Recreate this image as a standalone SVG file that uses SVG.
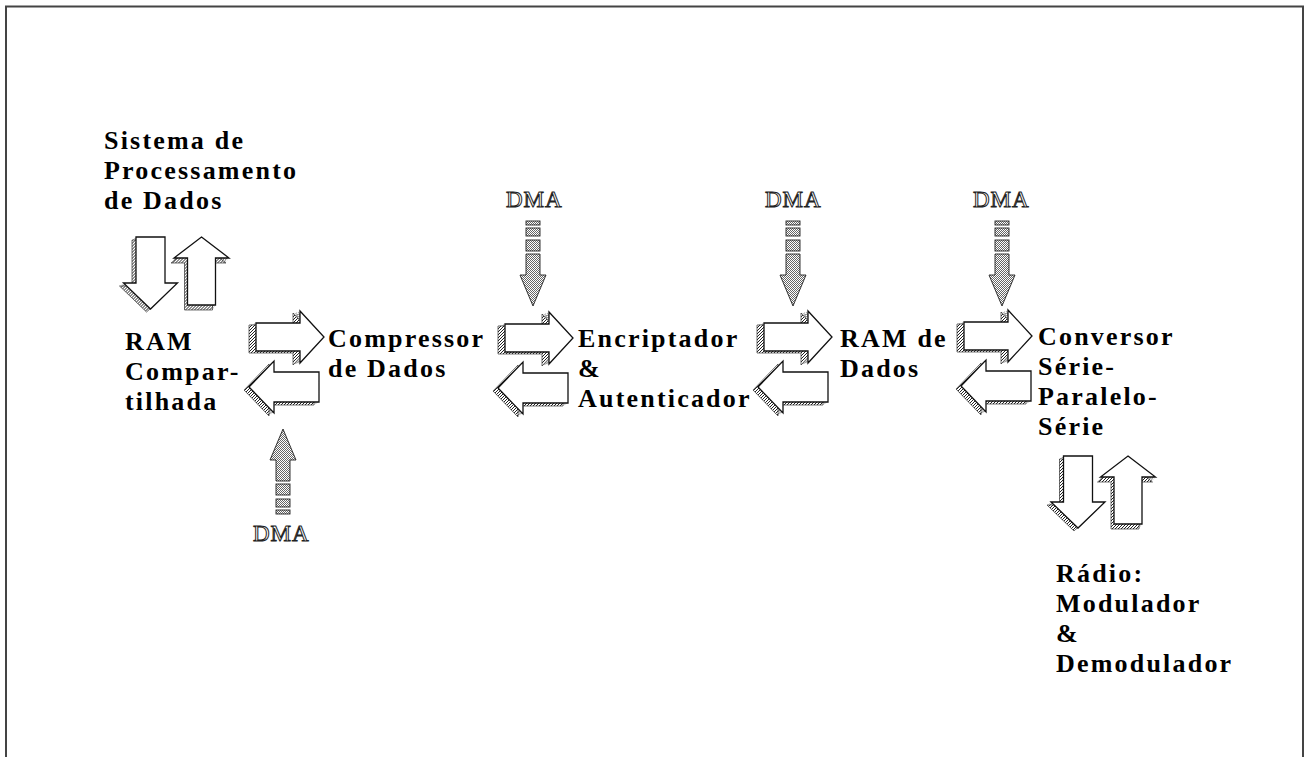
<svg xmlns="http://www.w3.org/2000/svg" xmlns:xlink="http://www.w3.org/1999/xlink" width="1309" height="757" viewBox="0 0 1309 757">
  <style>
    .lbl { font-family: "Liberation Serif", "Times New Roman", serif; font-weight: bold; font-size: 26px; letter-spacing: 2.2px; fill: #000; }
    .dma { font-family: "Liberation Serif", "Times New Roman", serif; font-size: 23px; letter-spacing: 1px; fill: #fff; stroke: #222; stroke-width: 1; }
    .ext { fill: url(#stip); stroke: none; }
    .back { fill: url(#stip); stroke: #333; stroke-width: 0.7; }
    .face { fill: #fff; stroke: #111; stroke-width: 1.3; stroke-linejoin: miter; }
    .bar { fill: url(#stip2); stroke: #222; stroke-width: 0.9; }
    .frame { fill: none; stroke: #444; stroke-width: 2; }
  </style>
  <defs>
    <!-- dotted shading for the sides of the block arrows -->
    <pattern id="stip" width="3" height="3" patternUnits="userSpaceOnUse">
      <rect width="3" height="3" fill="#fff"/>
      <rect x="0" y="0" width="1" height="1" fill="#222"/>
      <rect x="1" y="2" width="1" height="1" fill="#222"/>
      <rect x="2" y="1" width="1" height="1" fill="#222"/>
    </pattern>
    <!-- denser dotted fill for the striped DMA arrows -->
    <pattern id="stip2" width="2" height="2" patternUnits="userSpaceOnUse">
      <rect width="2" height="2" fill="#fff"/>
      <rect x="0" y="0" width="1" height="1" fill="#666"/>
      <rect x="1" y="1" width="1" height="1" fill="#666"/>
    </pattern>

    <!-- arrow outlines -->
    <path id="shpR" d="M0,-14 H44 V-26 L68,0 L44,26 V14 H0 Z"/>
    <path id="shpL" d="M0,0 L25,-26 V-15 H70 V15 H25 V26 Z"/>
    <path id="shpD" d="M-14.5,0 H14.5 V46 H27 L0,72 L-27,46 H-14.5 Z"/>
    <path id="shpU" d="M0,0 L27.5,21 H14 V68 H-14 V21 H-27.5 Z"/>

    <!-- 3D block arrows: extruded sides then the front face -->
    <g id="blockR">
      <use xlink:href="#shpR" class="ext" transform="translate(-1.75,0.5)"/>
      <use xlink:href="#shpR" class="ext" transform="translate(-3.5,1)"/>
      <use xlink:href="#shpR" class="ext" transform="translate(-5.25,1.5)"/>
      <use xlink:href="#shpR" class="back" transform="translate(-7,2)"/>
      <use xlink:href="#shpR" class="face"/>
    </g>
    <g id="blockL">
      <use xlink:href="#shpL" class="ext" transform="translate(-1.25,0.75)"/>
      <use xlink:href="#shpL" class="ext" transform="translate(-2.5,1.5)"/>
      <use xlink:href="#shpL" class="ext" transform="translate(-3.75,2.25)"/>
      <use xlink:href="#shpL" class="back" transform="translate(-5,3)"/>
      <use xlink:href="#shpL" class="face"/>
    </g>
    <g id="blockD">
      <use xlink:href="#shpD" class="ext" transform="translate(-1,0.75)"/>
      <use xlink:href="#shpD" class="ext" transform="translate(-2,1.5)"/>
      <use xlink:href="#shpD" class="ext" transform="translate(-3,2.25)"/>
      <use xlink:href="#shpD" class="back" transform="translate(-4,3)"/>
      <use xlink:href="#shpD" class="face"/>
    </g>
    <g id="blockU">
      <use xlink:href="#shpU" class="ext" transform="translate(-0.75,1.25)"/>
      <use xlink:href="#shpU" class="ext" transform="translate(-1.5,2.5)"/>
      <use xlink:href="#shpU" class="ext" transform="translate(-2.25,3.75)"/>
      <use xlink:href="#shpU" class="back" transform="translate(-3,5)"/>
      <use xlink:href="#shpU" class="face"/>
    </g>

    <!-- striped DMA arrow pointing down, origin at top centre -->
    <g id="dmaArrow">
      <rect class="bar" x="-7" y="0" width="14" height="4"/>
      <rect class="bar" x="-7" y="7" width="14" height="8"/>
      <rect class="bar" x="-7" y="19" width="14" height="11"/>
      <path class="bar" d="M-7,33 H7 V54 H13 L0,85 L-13,54 H-7 Z"/>
    </g>
  </defs>

  <rect width="1309" height="757" fill="#fff"/>

  <!-- outer frame (open at the bottom) -->
  <path class="frame" d="M6,757 V6.5 H1303 V757"/>

  <!-- blocks -->
  <g id="sistema">
    <text class="lbl" x="104" y="149">Sistema de</text>
    <text class="lbl" x="104" y="179">Processamento</text>
    <text class="lbl" x="104" y="209">de Dados</text>
  </g>
  <g id="ram-compartilhada">
    <text class="lbl" x="125" y="350">RAM</text>
    <text class="lbl" x="125" y="380">Compar-</text>
    <text class="lbl" x="125" y="410">tilhada</text>
  </g>
  <g id="compressor">
    <text class="lbl" x="328" y="347">Compressor</text>
    <text class="lbl" x="328" y="377">de Dados</text>
  </g>
  <g id="encriptador">
    <text class="lbl" x="578" y="347">Encriptador</text>
    <text class="lbl" x="578" y="377">&amp;</text>
    <text class="lbl" x="578" y="407">Autenticador</text>
  </g>
  <g id="ram-dados">
    <text class="lbl" x="840" y="347">RAM de</text>
    <text class="lbl" x="840" y="377">Dados</text>
  </g>
  <g id="conversor">
    <text class="lbl" x="1038" y="345">Conversor</text>
    <text class="lbl" x="1038" y="375">Série-</text>
    <text class="lbl" x="1038" y="405">Paralelo-</text>
    <text class="lbl" x="1038" y="435">Série</text>
  </g>
  <g id="radio">
    <text class="lbl" x="1056" y="582">Rádio:</text>
    <text class="lbl" x="1056" y="612">Modulador</text>
    <text class="lbl" x="1056" y="642">&amp;</text>
    <text class="lbl" x="1056" y="672">Demodulador</text>
  </g>
  <g id="dma-1"><text class="dma" x="506" y="207">DMA</text></g>
  <g id="dma-2"><text class="dma" x="765" y="207">DMA</text></g>
  <g id="dma-3"><text class="dma" x="973" y="207">DMA</text></g>
  <g id="dma-4"><text class="dma" x="253" y="541">DMA</text></g>

  <!-- connectors: block arrows between the stages -->
  <g id="connectors">
    <use xlink:href="#blockD" transform="translate(150.5,237)"/>
    <use xlink:href="#blockU" transform="translate(201.5,237)"/>

    <use xlink:href="#blockR" transform="translate(256,337)"/>
    <use xlink:href="#blockL" transform="translate(249,387)"/>

    <use xlink:href="#blockR" transform="translate(505,338)"/>
    <use xlink:href="#blockL" transform="translate(498,388)"/>

    <use xlink:href="#blockR" transform="translate(764,337)"/>
    <use xlink:href="#blockL" transform="translate(758,387)"/>

    <use xlink:href="#blockR" transform="translate(964,336)"/>
    <use xlink:href="#blockL" transform="translate(961,386)"/>

    <use xlink:href="#blockD" transform="translate(1078,456)"/>
    <use xlink:href="#blockU" transform="translate(1128,456)"/>

    <use xlink:href="#dmaArrow" transform="translate(533,221)"/>
    <use xlink:href="#dmaArrow" transform="translate(793,221)"/>
    <use xlink:href="#dmaArrow" transform="translate(1002,221)"/>
    <use xlink:href="#dmaArrow" transform="translate(283,514) scale(1,-1)"/>
  </g>
</svg>
